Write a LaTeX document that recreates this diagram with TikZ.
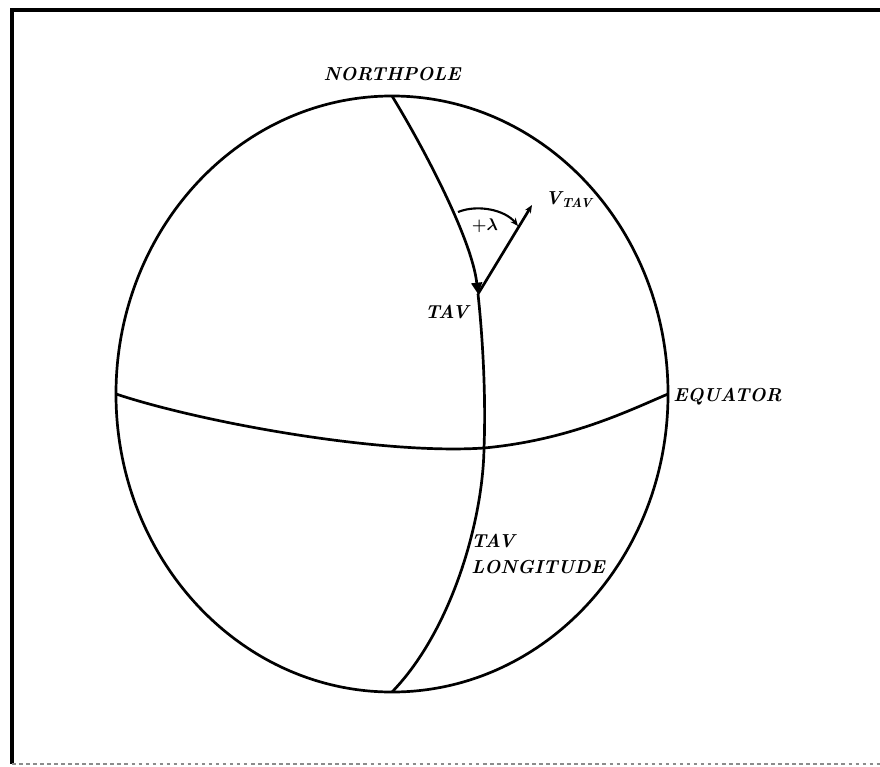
\documentclass[tikz,border=0pt]{standalone}
\usepackage{amsmath}
\usepackage{amssymb}
\usepackage{xcolor}
\usetikzlibrary{arrows.meta,shapes.geometric}

\begin{document}
\begin{tikzpicture}[x=0.03cm,y=-0.03cm,>={Triangle[length=3.4mm,width=3.2mm]},line width=2.3pt,
  lbl/.style={font=\fontsize{16}{22}\selectfont\bfseries\itshape,inner sep=0pt}]
  \useasboundingbox (0,0) rectangle (880,766);
  % frame
  \coordinate (fTL) at (12,10);
  \coordinate (fTR) at (880,10);
  \coordinate (fBL) at (12,764);
  \coordinate (fBR) at (880,764);
  \draw[line width=3.5pt] (fTR) -- (fTL) -- (fBL);
  \draw[black!45,dashed,line width=1.5pt] (fBL) -- (fBR);
  % globe
  \node[ellipse,draw,minimum width=16.56cm,minimum height=17.88cm,inner sep=0pt,outer sep=0pt] (globe) at (392,394) {};
  \coordinate (tav) at (478,294);
  \coordinate (cross) at (484,448);
  \coordinate (vtip) at (532,205);
  \coordinate (arcA) at (458,212);
  \coordinate (arcB) at (518,226);
  % meridian and equator
  \draw[->] (globe.north) .. controls (425,150) and (472,240) .. (tav);
  \draw (tav) .. controls (483,340) and (486,400) .. (cross) .. controls (483,520) and (452,630) .. (globe.south);
  \draw (globe.west) .. controls (200,422) and (380,455) .. (cross) .. controls (570,440) and (630,410) .. (globe.east);
  % velocity and heading angle
  \draw[-{Stealth[length=2.4mm,width=2mm]}] (tav) -- (vtip);
  \draw[-{Stealth[length=2.4mm,width=2mm]},line width=1.8pt] (arcA) .. controls (478,204) and (505,210) .. (arcB);
  % labels
  \node[lbl,anchor=east] (npLbl) at (462,74) {NORTHPOLE};
  \node[lbl,anchor=west] (eqLbl) at (672,397) {EQUATOR};
  \node[lbl,anchor=east] (tavLbl) at (470,312) {TAV};
  \node[lbl,anchor=north west,align=left] (lonLbl) at (470,533) {TAV\\LONGITUDE};
  \node[lbl,anchor=west] (vLbl) at (544,200) {V\textsubscript{TAV}};
  \node[inner sep=0pt,font=\fontsize{15}{17}\selectfont] (lamLbl) at (485,226) {$\boldsymbol{+\lambda}$};
\end{tikzpicture}
\end{document}
